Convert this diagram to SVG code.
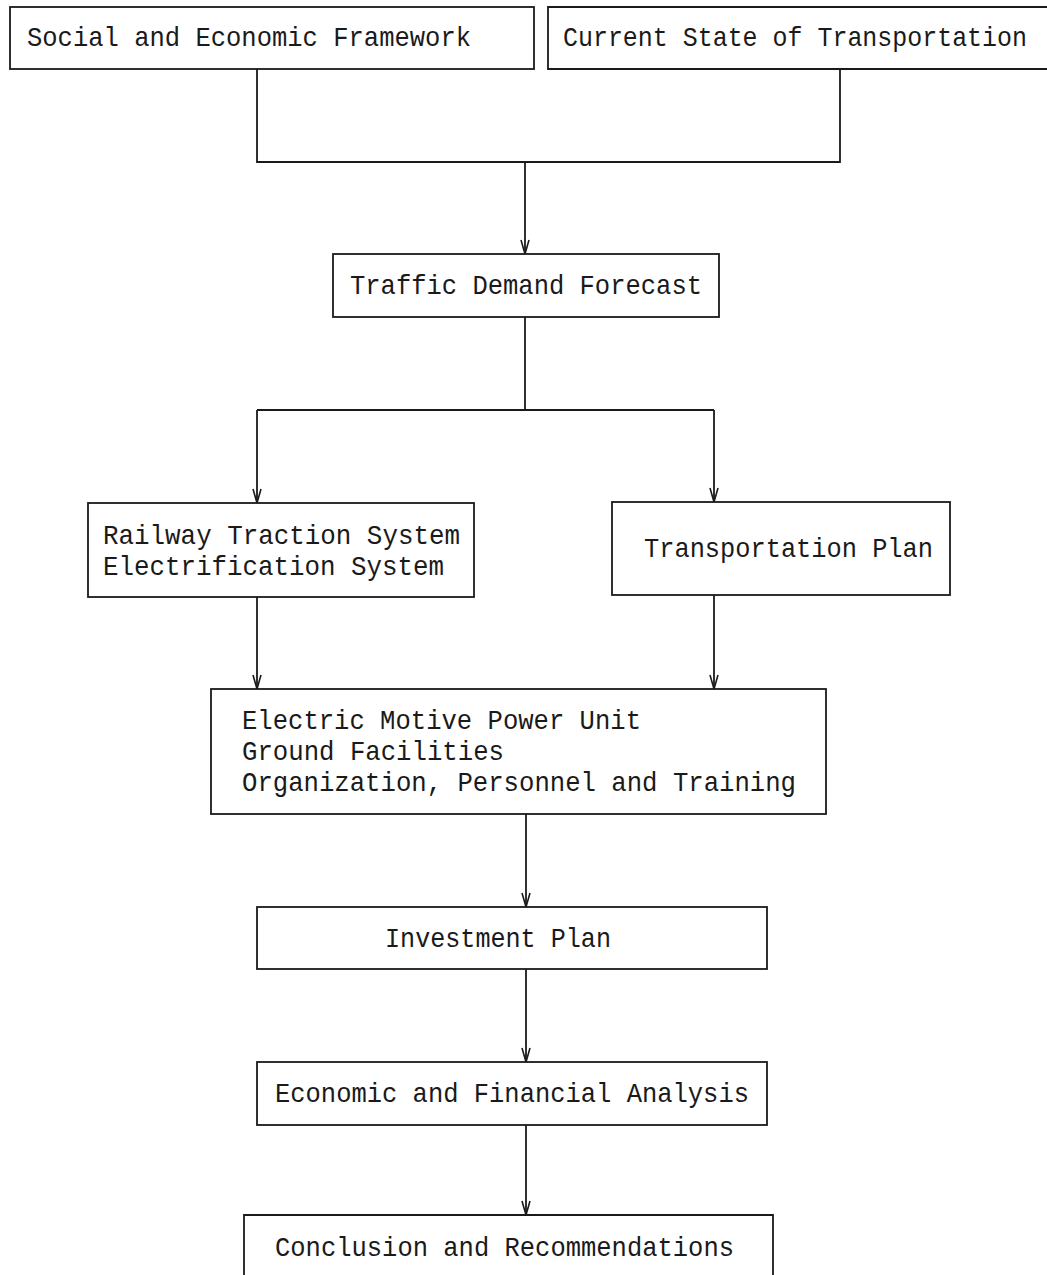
<svg xmlns="http://www.w3.org/2000/svg" width="1047" height="1275" viewBox="0 0 1047 1275">
<style>
.box{fill:#fff;stroke:#1a1a1a;stroke-width:1.8}
.t{font-family:"Liberation Mono","DejaVu Sans Mono",monospace;font-size:28px;fill:#1a1a1a}
.c{fill:none;stroke:#1a1a1a;stroke-width:1.8}
</style>
<defs>
<marker id="v" markerWidth="16" markerHeight="12" refX="15" refY="6" orient="auto" markerUnits="userSpaceOnUse" viewBox="0 0 16 12">
<polyline points="1,2 15,6 1,10" fill="none" stroke="#1a1a1a" stroke-width="1.6"/>
</marker>
</defs>
<rect width="1047" height="1275" fill="#fff"/>
<g id="connectors">
<polyline class="c" points="257,69 257,162 840,162 840,69"/>
<line class="c" x1="525" y1="162" x2="525" y2="254" marker-end="url(#v)"/>
<line class="c" x1="525" y1="317" x2="525" y2="410"/>
<line class="c" x1="257" y1="410" x2="714" y2="410"/>
<line class="c" x1="257" y1="410" x2="257" y2="503" marker-end="url(#v)"/>
<line class="c" x1="714" y1="410" x2="714" y2="502" marker-end="url(#v)"/>
<line class="c" x1="257" y1="597" x2="257" y2="689" marker-end="url(#v)"/>
<line class="c" x1="714" y1="595" x2="714" y2="689" marker-end="url(#v)"/>
<line class="c" x1="526" y1="814" x2="526" y2="907" marker-end="url(#v)"/>
<line class="c" x1="526" y1="969" x2="526" y2="1062" marker-end="url(#v)"/>
<line class="c" x1="526" y1="1125" x2="526" y2="1215" marker-end="url(#v)"/>
</g>
<g id="social">
<rect class="box" x="10" y="7" width="524" height="62"/>
<text class="t" x="27" y="46" textLength="444" lengthAdjust="spacingAndGlyphs">Social and Economic Framework</text>
</g>
<g id="current">
<path class="box" d="M1047,7 H548 V69 H1047"/>
<text class="t" x="563" y="46" textLength="464" lengthAdjust="spacingAndGlyphs">Current State of Transportation</text>
</g>
<g id="traffic">
<rect class="box" x="333" y="254" width="386" height="63"/>
<text class="t" x="350" y="294" textLength="352" lengthAdjust="spacingAndGlyphs">Traffic Demand Forecast</text>
</g>
<g id="railway">
<rect class="box" x="88" y="503" width="386" height="94"/>
<text class="t" x="103" y="544" textLength="357" lengthAdjust="spacingAndGlyphs">Railway Traction System</text>
<text class="t" x="103" y="575" textLength="341" lengthAdjust="spacingAndGlyphs">Electrification System</text>
</g>
<g id="transport">
<rect class="box" x="612" y="502" width="338" height="93"/>
<text class="t" x="644" y="557" textLength="289" lengthAdjust="spacingAndGlyphs">Transportation Plan</text>
</g>
<g id="electric">
<rect class="box" x="211" y="689" width="615" height="125"/>
<text class="t" x="242" y="729" textLength="399" lengthAdjust="spacingAndGlyphs">Electric Motive Power Unit</text>
<text class="t" x="242" y="760" textLength="262" lengthAdjust="spacingAndGlyphs">Ground Facilities</text>
<text class="t" x="242" y="791" textLength="554" lengthAdjust="spacingAndGlyphs">Organization, Personnel and Training</text>
</g>
<g id="investment">
<rect class="box" x="257" y="907" width="510" height="62"/>
<text class="t" x="385" y="947" textLength="226" lengthAdjust="spacingAndGlyphs">Investment Plan</text>
</g>
<g id="economic">
<rect class="box" x="257" y="1062" width="510" height="63"/>
<text class="t" x="275" y="1102" textLength="474" lengthAdjust="spacingAndGlyphs">Economic and Financial Analysis</text>
</g>
<g id="conclusion">
<path class="box" d="M244,1275 V1215 H773 V1275"/>
<text class="t" x="275" y="1256" textLength="459" lengthAdjust="spacingAndGlyphs">Conclusion and Recommendations</text>
</g>
</svg>
